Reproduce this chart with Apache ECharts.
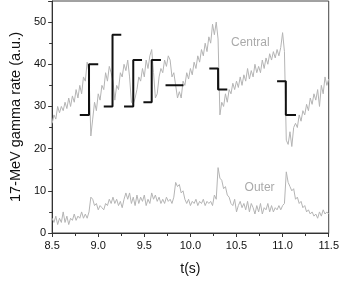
<!DOCTYPE html>
<html><head><meta charset="utf-8">
<script src="https://cdn.jsdelivr.net/npm/echarts@6/dist/echarts.min.js"></script>
<style>html,body{margin:0;padding:0;background:#fff}#c{width:342px;height:281px}</style>
</head><body><div id="c"></div>
<script>
const times = [8.50,8.52,8.54,8.56,8.58,8.60,8.62,8.64,8.66,8.68,8.70,8.72,8.74,8.76,8.78,8.80,8.82,8.84,8.86,8.88,
8.90,8.92,8.94,8.96,8.98,9.00,9.02,9.04,9.06,9.08,9.10,9.12,9.14,9.16,9.18,9.20,9.22,9.24,9.26,9.28,
9.30,9.32,9.34,9.36,9.38,9.40,9.42,9.44,9.46,9.48,9.50,9.52,9.54,9.56,9.58,9.60,9.62,9.64,9.66,9.68,
9.70,9.72,9.74,9.76,9.78,9.80,9.82,9.84,9.86,9.88,9.90,9.92,9.94,9.96,9.98,10.00,10.02,10.04,10.06,10.08,
10.10,10.12,10.14,10.16,10.18,10.20,10.22,10.24,10.26,10.28,10.30,10.32,10.34,10.36,10.38,10.40,10.42,10.44,10.46,10.48,
10.50,10.52,10.54,10.56,10.58,10.60,10.62,10.64,10.66,10.68,10.70,10.72,10.74,10.76,10.78,10.80,10.82,10.84,10.86,10.88,
10.90,10.92,10.94,10.96,10.98,11.00,11.02,11.04,11.06,11.08,11.10,11.12,11.14,11.16,11.18,11.20,11.22,11.24,11.26,11.28,
11.30,11.32,11.34,11.36,11.38,11.40,11.42,11.44,11.46,11.48,11.50];

const central = [26,28,27,30,28.5,30,29,31,29.5,32,30,32.5,31,34,32,35,33,37,36,40.5,
38,23,27,31,29,33,31.5,35,34,38,36,39.5,38,36,31.5,35,34,38,37,40,
38.5,41,37,31,30.5,32,34,37,36,39,37,41,39,42,43.5,38,32,33,37,39,
38,41,39.5,42,41,37,38,35,32,33.5,32,36,35,38,36.5,39,37.5,40.5,39,42,
40.5,43.5,42,45,43,46.5,45,49.5,47,50,46,28,31,30,33,31,34,33,35.5,34,
36,34.5,37,35,37.5,36,39,36.5,38.5,37,40,38,39.5,38,41,39,41.5,40,42.5,41,
43,41.5,43.5,42,44,47.5,43,22,21,24,20.5,25,26,25,28,26.5,29,28,30.5,29,
32,30.5,33,31.5,34,30,35,33,37,35,36.5];

const outer = [3.5,2.5,4,2,3.5,2.5,5,2.5,4,2,3.5,3,4.5,3,4,3.5,5,3.5,4.5,3.5,
5,8.5,8,6.5,7,5.5,6.5,6,5.5,7,6.5,8,7,8.5,7,8,6.5,7.5,6,8,
9.5,8,9.5,7,8.5,6.5,9,7,8.5,7.5,9,6.5,8,7,9.5,8,9,7.5,8.5,7,
8,7,8.5,7.5,8,7,8.5,12,11,11.5,9.5,10,8,7,8,6.5,7.5,7,8,6.5,
7.5,7,8,6.5,7.5,7,7.5,6.5,9,8,15.5,13,12.5,10.5,11,9,8.5,7,6.5,8,
5,6.5,7.5,6,7,5.5,7.5,5,7,6,4.5,6.5,5,7,4.5,6,5.5,7,5,6.5,
5,6,5.5,6.5,5.5,6.5,7,14.5,12,11,10,10.5,8,8.5,7,7.5,6,6.5,5,5.5,
4.5,5,4,4.5,3.5,5,4,5.5,4.5,5,4.5];

// black step segments (null = break)
const stepT = [8.80,8.90,8.90,9.00,null, 9.06,9.155,9.155,9.25,null, 9.28,9.38,9.38,9.475,null,
               9.49,9.58,9.58,9.68,null, 9.73,9.925,null, 10.205,10.30,10.30,10.40,null, 10.94,11.035,11.035,11.145];
const stepV = [28,28,40,40,null, 30,30,47,47,null, 30,30,41,41,null,
               31,31,41,41,null, 35,35,null, 39,39,34,34,null, 36,36,28,28];

const xTicks = {min: 8.5, max: 11.5, interval: 0.5};
const yTicks = {min: 0, max: 55, interval: 10};
const labelCentral = {text: 'Central', t: 10.65, v: 45};
const labelOuter = {text: 'Outer', t: 10.75, v: 10.8};

const cData = times.map((t,i)=>[t, central[i]]);
const oData = times.map((t,i)=>[t, outer[i]]);
const sData = stepT.map((t,i)=> t===null ? ['-','-'] : [t, stepV[i]]);

const font = 'Liberation Sans, Arial, sans-serif';
const chart = echarts.init(document.getElementById('c'), null, {renderer:'canvas'});
const axisCol = '#333';
chart.setOption({
  animation: false,
  grid: {left: 40, right: 12, top: 1, bottom: 45, show: true, borderColor: '#444', borderWidth: 1},
  xAxis: {
    type: 'value', min: xTicks.min, max: xTicks.max, interval: xTicks.interval,
    name: 't(s)', nameLocation: 'middle', nameGap: 29,
    nameTextStyle: {fontFamily: font, fontSize: 14, color: '#111'},
    axisLine: {onZero: false, lineStyle: {color: axisCol}},
    axisTick: {show: true, length: 4, inside: false, lineStyle: {color: axisCol}},
    minorTick: {show: true, splitNumber: 2, length: 3, lineStyle: {color: axisCol}},
    axisLabel: {fontFamily: font, fontSize: 11, color: '#111', margin: 7, formatter: v => v.toFixed(1)},
    splitLine: {show: false}
  },
  yAxis: {
    type: 'value', min: yTicks.min, max: yTicks.max, interval: yTicks.interval,
    name: '17-MeV gamma rate (a.u.)', nameLocation: 'middle', nameGap: 21,
    nameTextStyle: {fontFamily: font, fontSize: 14.5, color: '#111'},
    axisLine: {show: true, onZero: false, lineStyle: {color: axisCol}},
    axisTick: {show: true, length: 4, lineStyle: {color: axisCol}},
    minorTick: {show: true, splitNumber: 2, length: 3, lineStyle: {color: axisCol}},
    axisLabel: {fontFamily: font, fontSize: 11, color: '#111', margin: 6, showMaxLabel: false},
    splitLine: {show: false}
  },
  series: [
    {type: 'line', data: cData, symbol: 'none', lineStyle: {color: '#b4b4b4', width: 1}, z: 2},
    {type: 'line', data: oData, symbol: 'none', lineStyle: {color: '#b4b4b4', width: 1}, z: 2},
    {type: 'line', data: sData, symbol: 'none', connectNulls: false, lineStyle: {color: '#111', width: 2}, z: 3}
  ]
});
function place(l){
  const p = chart.convertToPixel({gridIndex: 0}, [l.t, l.v]);
  return {type: 'text', x: p[0], y: p[1], style: {text: l.text, fill: '#aaa', font: '12px ' + font, textAlign: 'center', textVerticalAlign: 'middle'}};
}
chart.setOption({graphic: [place(labelCentral), place(labelOuter)]});
</script></body></html>
